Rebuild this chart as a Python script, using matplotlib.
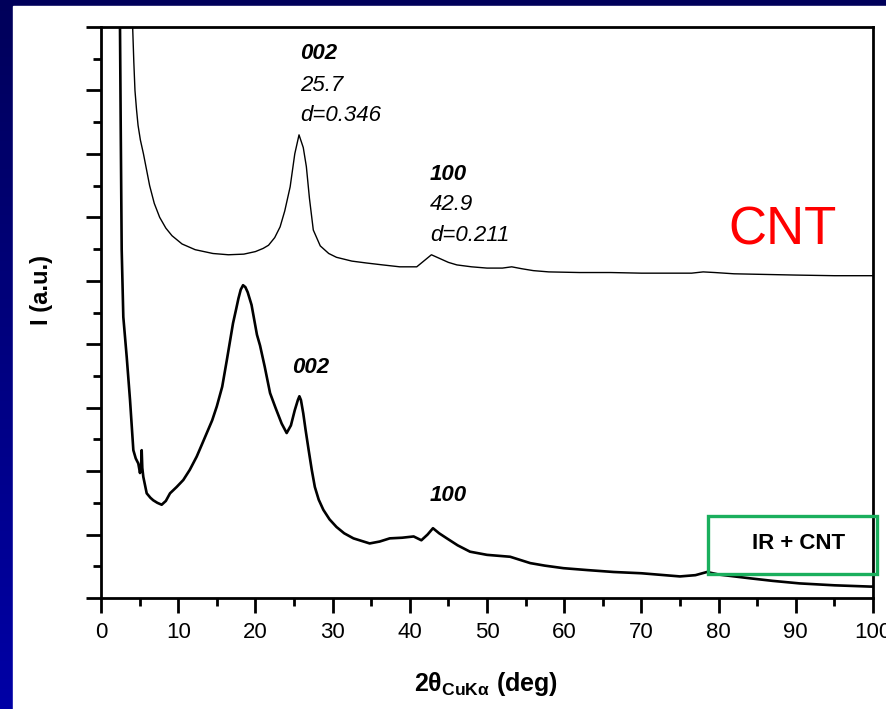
import numpy as np
import matplotlib
matplotlib.use("Agg")
import matplotlib.pyplot as plt
from matplotlib.patches import Rectangle
from matplotlib.ticker import MultipleLocator

plt.rcParams['font.family'] = ['Liberation Sans', 'DejaVu Sans']
plt.rcParams['mathtext.fontset'] = 'custom'
plt.rcParams['mathtext.rm'] = 'Liberation Sans'
plt.rcParams['mathtext.it'] = 'Liberation Sans:italic'
plt.rcParams['mathtext.bf'] = 'Liberation Sans:bold'

# CNT pattern (upper trace)
cnt_2theta = [4.0, 4.1, 4.25, 4.4, 4.6, 4.8, 5.1, 5.5, 5.9, 6.3, 6.9, 7.6, 8.4, 9.2, 10.5,
              12.2, 14.5, 16.5, 18.5, 20.0, 21.0, 21.7, 22.5, 23.2, 23.8, 24.5, 25.1,
              25.65, 26.2, 26.6, 27.0, 27.5, 28.4, 29.5, 30.5, 32.5, 34.4, 36.5, 38.7,
              40.9, 42.0, 42.8, 43.9, 45.0, 46.1, 48.0, 50.0, 52.0, 53.2, 54.5, 56.0,
              58.0, 62.0, 66.0, 70.0, 74.0, 76.5, 78.0, 79.5, 82.0, 86.0, 90.0, 95.0,
              100.0]
cnt_int = [9.3, 9.0, 8.45, 8.0, 7.7, 7.45, 7.22, 7.0, 6.75, 6.5, 6.22, 6.0, 5.83, 5.71,
           5.58, 5.49, 5.43, 5.41, 5.42, 5.46, 5.51, 5.56, 5.68, 5.85, 6.1, 6.48, 7.0,
           7.3, 7.1, 6.8, 6.3, 5.8, 5.55, 5.43, 5.37, 5.31, 5.28, 5.25, 5.22,
           5.22, 5.33, 5.41, 5.35, 5.29, 5.25, 5.22, 5.20, 5.20, 5.22, 5.19, 5.16,
           5.14, 5.13, 5.13, 5.12, 5.12, 5.12, 5.14, 5.13, 5.11, 5.10, 5.09, 5.08,
           5.08]

# IR + CNT pattern (lower trace)
ir_2theta = [2.40, 2.46, 2.55, 2.68, 2.89, 3.33, 3.76, 4.19, 4.50, 4.83, 5.05, 5.20,
             5.27, 5.35, 5.48, 5.92, 6.4, 6.77, 7.3, 7.86, 8.4, 8.94, 9.8, 10.66, 11.5,
             12.4, 13.0, 13.7, 14.4, 15.0, 15.7, 16.3, 17.1, 17.5, 17.8, 18.1, 18.4,
             18.7, 19.0, 19.5, 20.2, 20.6, 21.2, 21.9, 22.6, 23.4, 24.05, 24.6, 25.1,
             25.5, 25.7, 25.9, 26.2, 26.5, 26.9, 27.3, 27.7, 28.2, 28.8, 29.6, 30.5,
             31.5, 32.7, 34.8, 36.1, 37.4, 39.0, 40.5, 41.5, 42.3, 43.0, 43.8, 44.8,
             46.2, 47.8, 50.0, 53.0, 55.6, 57.5, 59.9, 63.0, 66.4, 70.0, 75.0, 77.0,
             78.5, 80.0, 84.1, 87.0, 90.5, 95.0, 99.6, 100.0]
ir_int = [9.5, 9.0, 7.5, 5.49, 4.43, 3.80, 3.12, 2.33, 2.2, 2.12, 1.97, 2.1,
          2.33, 2.05, 1.91, 1.65, 1.58, 1.54, 1.50, 1.47, 1.53, 1.65, 1.75, 1.86, 2.02,
          2.23, 2.40, 2.60, 2.80, 3.02, 3.33, 3.75, 4.33, 4.55, 4.72, 4.86, 4.93,
          4.9, 4.82, 4.62, 4.15, 3.98, 3.65, 3.23, 3.0, 2.75, 2.60, 2.72, 2.96,
          3.12, 3.18, 3.12, 2.91, 2.65, 2.33, 2.02, 1.75, 1.55, 1.39, 1.24, 1.12,
          1.02, 0.94, 0.86, 0.89, 0.94, 0.95, 0.97, 0.91, 1.0, 1.10, 1.02, 0.94,
          0.83, 0.73, 0.68, 0.65, 0.55, 0.51, 0.47, 0.44, 0.41, 0.39, 0.34, 0.36,
          0.41, 0.37, 0.31, 0.27, 0.23, 0.20, 0.18, 0.18]

fig = plt.figure(figsize=(8.87, 7.09), dpi=100)

# slide background: dark blue gradient with white content area
bg = fig.add_axes([0, 0, 1, 1], zorder=0)
grad = np.linspace(0, 1, 256).reshape(-1, 1)
bg.imshow(grad, aspect='auto', extent=[0, 1, 0, 1],
          cmap=matplotlib.colors.LinearSegmentedColormap.from_list('slide', ['#0000a6', '#00005a']),
          origin='lower')
bg.add_patch(Rectangle((13 / 887, 0), 1, (709 - 6) / 709, color='white'))
bg.set_xlim(0, 1)
bg.set_ylim(0, 1)
bg.axis('off')

ax = fig.add_axes([101 / 887, 111 / 709, 772 / 887, 571 / 709], zorder=1)
ax.set_facecolor('white')
ax.plot(cnt_2theta, cnt_int, color='black', lw=1.0)
ax.plot(ir_2theta, ir_int, color='black', lw=1.9)

ax.set_xlim(0, 100)
ax.set_ylim(0, 9)
ax.xaxis.set_major_locator(MultipleLocator(10))
ax.xaxis.set_minor_locator(MultipleLocator(5))
ax.yaxis.set_major_locator(MultipleLocator(1))
ax.yaxis.set_minor_locator(MultipleLocator(0.5))
ax.tick_params(which='major', direction='out', length=11, width=2, labelsize=16, pad=6)
ax.tick_params(which='minor', direction='out', length=6, width=2)
ax.tick_params(axis='y', labelleft=False)
for s in ax.spines.values():
    s.set_linewidth(2)

fig.text(486 / 887, 1 - 684 / 709, r'$\mathbf{2\theta_{CuK\alpha}}$ $\mathbf{(deg)}$',
         fontsize=18, ha='center', va='center')
ax.set_ylabel('I (a.u.)', fontsize=17, fontweight='bold')
ax.yaxis.set_label_coords(-0.062, 0.54)

# peak annotations for CNT
ax.text(25.8, 8.58, '002', fontsize=16, fontweight='bold', style='italic', va='center')
ax.text(25.8, 8.08, '25.7', fontsize=16, style='italic', va='center')
ax.text(25.8, 7.6, 'd=0.346', fontsize=16, style='italic', va='center')
ax.text(42.6, 6.67, '100', fontsize=16, fontweight='bold', style='italic', va='center')
ax.text(42.6, 6.2, '42.9', fontsize=16, style='italic', va='center')
ax.text(42.6, 5.72, 'd=0.211', fontsize=16, style='italic', va='center')
ax.text(88.3, 5.8, 'CNT', fontsize=38, color='#ff0000', ha='center', va='center')

# peak annotations for IR + CNT
ax.text(24.8, 3.64, '002', fontsize=16, fontweight='bold', style='italic', va='center')
ax.text(42.6, 1.62, '100', fontsize=16, fontweight='bold', style='italic', va='center')

ax.add_patch(Rectangle((78.6, 0.378), 21.9, 0.91, fill=False, ec='#1aaf5d', lw=2.4,
                       clip_on=False, zorder=3))
ax.text(90.3, 0.86, 'IR + CNT', fontsize=16, fontweight='bold', ha='center', va='center')

fig.savefig('out.png', dpi=100, facecolor=fig.get_facecolor())
